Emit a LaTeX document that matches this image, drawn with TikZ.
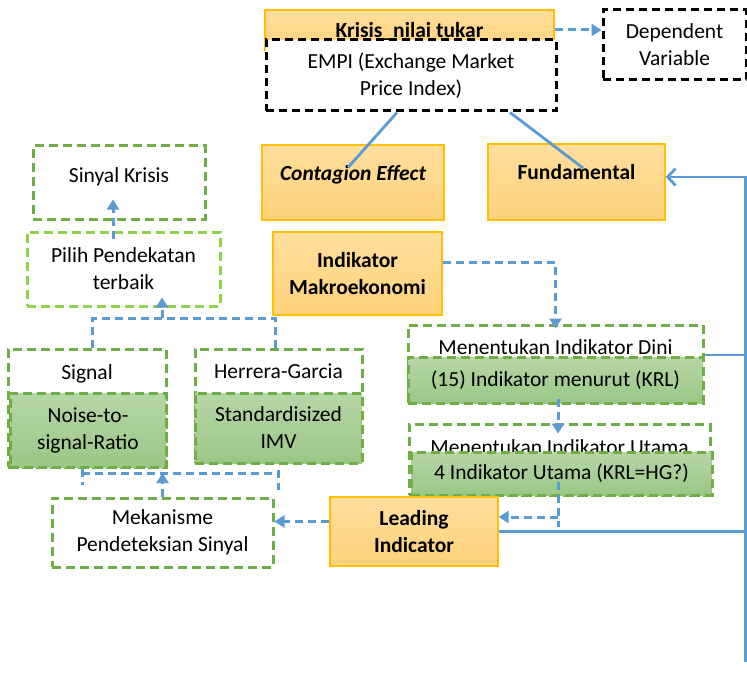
\documentclass[tikz,border=0pt]{standalone}
\usepackage{fontspec}
\setmainfont{Carlito}
\usetikzlibrary{arrows.meta}

\definecolor{flowblue}{HTML}{5B9BD5}
\definecolor{boxgreen}{HTML}{70AD47}
\definecolor{lightgreen}{HTML}{92D050}
\definecolor{greentop}{HTML}{B5D6A6}
\definecolor{greenbot}{HTML}{9BC787}
\definecolor{orangetop}{HTML}{FFDE9E}
\definecolor{orangebot}{HTML}{FFD27A}
\definecolor{orangeline}{HTML}{FFC000}

\tikzset{
  every node/.style={font=\fontsize{21.5}{27}\selectfont, inner sep=2pt, align=center},
  orangebox/.style={rectangle, draw=orangeline, line width=1.3pt, top color=orangetop, bottom color=orangebot,
                    font=\fontsize{21.5}{27}\selectfont\bfseries},
  blackbox/.style={rectangle, draw=black, fill=white, line width=3pt, dash pattern=on 8pt off 5pt},
  greenbox/.style={rectangle, draw=boxgreen, fill=white, line width=3pt, dash pattern=on 9pt off 5pt},
  greenfill/.style={greenbox, top color=greentop, bottom color=greenbot},
  paledash/.style={greenbox, draw=lightgreen},
  dashline/.style={draw=flowblue, line width=3pt, dash pattern=on 8pt off 5pt},
  dasharrow/.style={dashline, -{Triangle[length=10pt,width=12pt]}},
  solidline/.style={draw=flowblue, line width=2.8pt}
}

\begin{document}
\begin{tikzpicture}[x=1pt, y=-1pt]
  \useasboundingbox (0,0) rectangle (747,674);

  % top: exchange rate crisis
  \node[orangebox, text height=21pt, text depth=5pt, minimum width=289pt, minimum height=40pt] (krisis) at (409.5,30) {Krisis\_nilai tukar};
  \node[blackbox, minimum width=290pt, minimum height=71pt] (empi) at (411,75.5) {EMPI (Exchange Market\\Price Index)};
  \node[blackbox, minimum width=143pt, minimum height=70pt] (dependent) at (674.5,45) {Dependent\\Variable};

  \node[orangebox, font=\fontsize{21.5}{27}\selectfont\bfseries\itshape, text depth=20pt,
        minimum width=182pt, minimum height=75pt] (contagion) at (353,182.5) {Contagion Effect};
  \node[orangebox, text depth=20pt, minimum width=177pt, minimum height=76pt] (fundamental) at (576.5,182) {Fundamental};
  \node[orangebox, minimum width=169pt, minimum height=83pt] (makro) at (357.5,273.5) {Indikator\\Makroekonomi};

  % right column
  \node[greenbox, minimum width=295pt, minimum height=78pt,
        label={[anchor=north, yshift=-14pt]north:Menentukan Indikator Dini}] (dini) at (555.5,364) {};
  \node[greenfill, minimum width=295pt, minimum height=46pt] (krl) at (555.5,380) {(15) Indikator menurut (KRL)};
  \node[greenbox, minimum width=301pt, minimum height=71pt,
        label={[anchor=north, yshift=-15pt]north:Menentukan Indikator Utama}] (utama) at (559.5,459.5) {};
  \node[greenfill, minimum width=301pt, minimum height=43pt] (hg) at (561.5,473.5) {4 Indikator Utama (KRL=HG?)};
  \node[orangebox, minimum width=168pt, minimum height=69pt] (leading) at (414,531.5) {Leading\\Indicator};

  % left column
  \node[greenbox, minimum width=172pt, minimum height=73pt, text depth=14pt] (sinyal) at (119,182.5) {Sinyal Krisis};
  \node[paledash, minimum width=193pt, minimum height=74pt] (pilih) at (123.5,269) {Pilih Pendekatan\\terbaik};
  \node[greenbox, minimum width=158pt, minimum height=118pt,
        label={[anchor=north, yshift=-15pt]north:Signal}] (signal) at (87,408) {};
  \node[greenfill, minimum width=156pt, minimum height=74pt] (noise) at (88,430) {Noise-to-\\signal-Ratio};
  \node[greenbox, minimum width=167pt, minimum height=114pt,
        label={[anchor=north, yshift=-14pt]north:Herrera-Garcia}] (herrera) at (278.5,406) {};
  \node[greenfill, minimum width=167pt, minimum height=70pt] (imv) at (278.5,428) {Standardisized\\IMV};
  \node[greenbox, minimum width=221pt, minimum height=69pt] (mekanisme) at (162.5,532.5) {Mekanisme\\Pendeteksian Sinyal};

  \coordinate (trunk) at (745.5,662);
  \coordinate (topbar) at (162,318);
  \coordinate (lowbar) at (160,473);
  \coordinate (hgdrop) at (558,517);

  % connectors
  \draw[dasharrow] (krisis.east) -- (krisis.east -| dependent.west);
  \draw[solidline] ([xshift=-14pt]empi.south) -- ([xshift=-5pt,yshift=15pt]contagion.center);
  \draw[solidline] ([xshift=99pt]empi.south) -- ([xshift=6.5pt,yshift=14pt]fundamental.center);
  \draw[solidline, -{Straight Barb[length=8pt,width=17pt]}] (trunk) |- ([yshift=5pt]fundamental.east);
  \draw[solidline] ([yshift=9pt]dini.east) -- ([yshift=9pt]dini.east -| trunk);
  \draw[solidline] (leading.east) -- (leading.east -| trunk);

  \draw[dasharrow] ([yshift=11pt]makro.east) -| ([yshift=-5pt]dini.north);
  \draw[dasharrow] ([xshift=2.5pt,yshift=6pt]krl.south) -- ([xshift=-1.5pt,yshift=-11pt]utama.north);
  \draw[dashline] ([yshift=-8.5pt]hg.center -| hgdrop) -- ([yshift=-10pt]hgdrop);
  \draw[dasharrow] (hgdrop) -- (hgdrop -| leading.east);
  \draw[dasharrow] ([yshift=10pt]leading.west) -- ([yshift=10pt]leading.west -| mekanisme.east);

  \draw[dashline] ([xshift=-6pt]noise.south) -- ++(0,16);
  \draw[dashline] ([xshift=-6pt]noise.south |- lowbar) -- (imv.south |- lowbar);
  \draw[dashline] ([yshift=-5pt]imv.south) -- ++(0,20);
  \draw[dasharrow] (mekanisme.north) -- (mekanisme.north |- lowbar);

  \draw[dashline] ([xshift=5pt]signal.north) |- (topbar) -| ([xshift=-3.5pt]herrera.north);
  \draw[dasharrow] (topbar) -- ([yshift=10pt]topbar |- pilih.south);
  \draw[dasharrow] ([xshift=-10.5pt,yshift=-8pt]pilih.north) -- ([xshift=-6pt,yshift=21pt]sinyal.south);
\end{tikzpicture}
\end{document}
